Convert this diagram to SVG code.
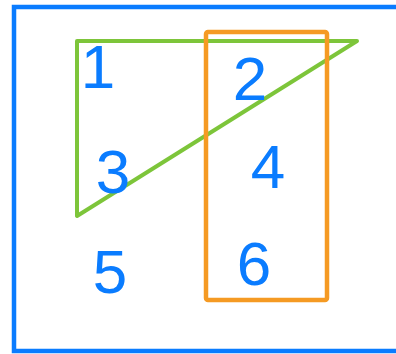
<svg xmlns="http://www.w3.org/2000/svg" width="396" height="354" viewBox="0 0 396 354">
<style>
.digit{font-family:"Liberation Sans","DejaVu Sans",sans-serif;font-size:62px;fill:#0a7cff;text-anchor:middle}
.frame{fill:none;stroke:#0a7cff;stroke-width:4.5}
.tri{fill:none;stroke:#7dc53a;stroke-width:4;stroke-linejoin:round}
.box{fill:none;stroke:#f59a23;stroke-width:4.5;stroke-linejoin:round}
</style>
<rect width="396" height="354" fill="#ffffff"/>
<g id="frame"><path class="frame" d="M400 7 H14 V351 H400"/></g>
<g id="triangle"><polygon class="tri" points="77,41 357,41 77,216"/></g>
<g id="column"><rect class="box" x="206" y="32" width="121" height="268" rx="2"/></g>
<g id="n1"><text class="digit" x="98" y="88">1</text></g>
<g id="n2"><text class="digit" x="250" y="100">2</text></g>
<g id="n3"><text class="digit" x="113" y="193">3</text></g>
<g id="n4"><text class="digit" x="268" y="188">4</text></g>
<g id="n5"><text class="digit" x="110" y="293">5</text></g>
<g id="n6"><text class="digit" x="254" y="285">6</text></g>
<g id="connectors"></g>
</svg>
